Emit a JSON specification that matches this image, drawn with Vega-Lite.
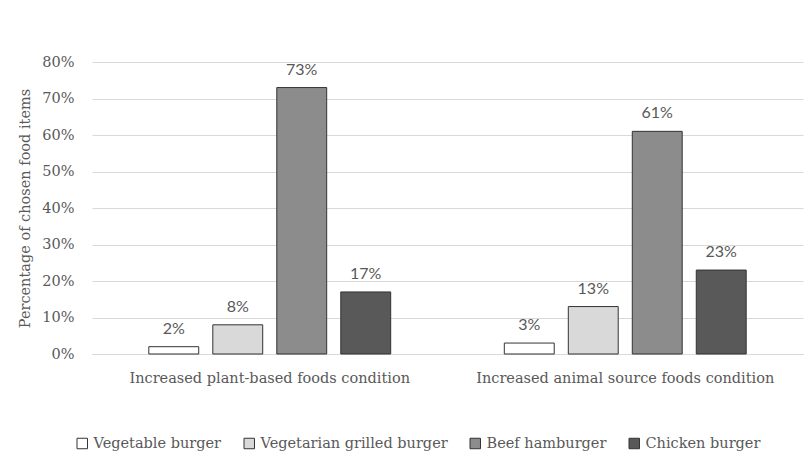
{
  "$schema": "https://vega.github.io/schema/vega-lite/v6.json",
  "width": 711,
  "height": 292,
  "autosize": {"type": "none"},
  "padding": {"left": 92, "top": 62, "right": 6, "bottom": 112},
  "background": "white",
  "config": {
    "view": {"stroke": null},
    "axis": {"labelFont": "DejaVu Serif", "titleFont": "DejaVu Serif", "labelColor": "#595959", "titleColor": "#595959", "labelLimit": 0},
    "legend": {"labelFont": "DejaVu Serif", "labelColor": "#595959", "labelLimit": 0}
  },
  "data": {
    "values": [
      {"condition": "Increased plant-based foods condition", "item": "Vegetable burger", "share": 0.02},
      {"condition": "Increased plant-based foods condition", "item": "Vegetarian grilled burger", "share": 0.08},
      {"condition": "Increased plant-based foods condition", "item": "Beef hamburger", "share": 0.73},
      {"condition": "Increased plant-based foods condition", "item": "Chicken burger", "share": 0.17},
      {"condition": "Increased animal source foods condition", "item": "Vegetable burger", "share": 0.03},
      {"condition": "Increased animal source foods condition", "item": "Vegetarian grilled burger", "share": 0.13},
      {"condition": "Increased animal source foods condition", "item": "Beef hamburger", "share": 0.61},
      {"condition": "Increased animal source foods condition", "item": "Chicken burger", "share": 0.23}
    ]
  },
  "encoding": {
    "x": {
      "field": "condition", "type": "nominal", "sort": null, "title": null,
      "scale": {"paddingInner": 0.28, "paddingOuter": 0.14},
      "axis": {"labelAngle": 0, "labelFontSize": 14.5, "labelPadding": 17, "ticks": false, "domainColor": "#d9d9d9", "domainWidth": 1}
    },
    "xOffset": {
      "field": "item", "type": "nominal",
      "sort": ["Vegetable burger", "Vegetarian grilled burger", "Beef hamburger", "Chicken burger"],
      "scale": {"paddingInner": 0.22, "paddingOuter": 0.11}
    },
    "y": {
      "field": "share", "type": "quantitative",
      "title": "Percentage of chosen food items",
      "scale": {"domain": [0, 0.8]},
      "axis": {"format": ".0%", "values": [0, 0.1, 0.2, 0.3, 0.4, 0.5, 0.6, 0.7, 0.8], "labelOverlap": false, "domain": false, "ticks": false, "labelPadding": 18, "labelFontSize": 14.5, "titleFontSize": 14.5, "titleFontWeight": "normal", "titlePadding": 9, "gridColor": "#d9d9d9", "gridWidth": 1}
    }
  },
  "layer": [
    {
      "mark": {"type": "bar", "stroke": "#333333", "strokeWidth": 1},
      "encoding": {
        "fill": {
          "field": "item", "type": "nominal", "title": null,
          "sort": ["Vegetable burger", "Vegetarian grilled burger", "Beef hamburger", "Chicken burger"],
          "scale": {"domain": ["Vegetable burger", "Vegetarian grilled burger", "Beef hamburger", "Chicken burger"], "range": ["#ffffff", "#d9d9d9", "#8c8c8c", "#595959"]},
          "legend": {"orient": "none", "direction": "horizontal", "legendX": -17, "legendY": 374, "symbolType": "square", "symbolSize": 110, "symbolStrokeColor": "#333333", "symbolStrokeWidth": 1, "labelFontSize": 14.5, "columnPadding": 20, "labelOffset": 4}
        }
      }
    },
    {
      "mark": {"type": "text", "baseline": "bottom", "dy": -10, "font": "Lato", "fontSize": 16, "color": "#595959"},
      "encoding": {"text": {"field": "share", "type": "quantitative", "format": ".0%"}}
    }
  ]
}
